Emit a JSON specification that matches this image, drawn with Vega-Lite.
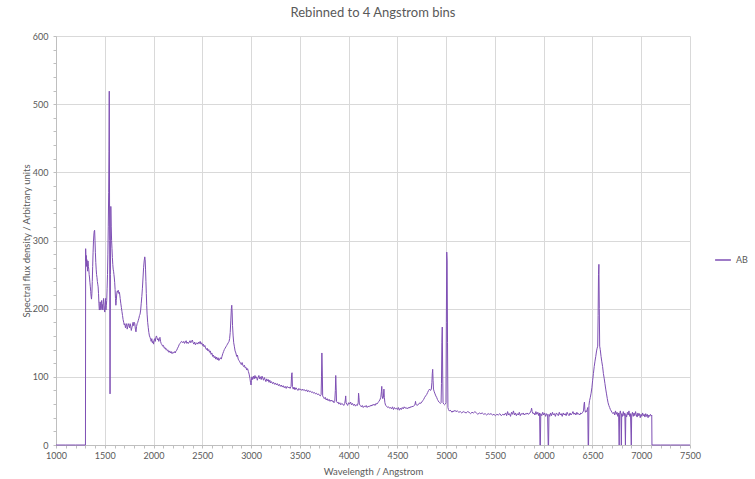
{
  "$schema": "https://vega.github.io/schema/vega-lite/v6.json",
  "width": 634,
  "height": 409,
  "autosize": {"type": "none"},
  "padding": {"left": 56, "top": 36, "right": 65, "bottom": 34},
  "background": "white",
  "config": {"font": "Lato", "view": {"stroke": null}},
  "title": {"text": "Rebinned to 4 Angstrom bins", "fontSize": 13, "font": "Lato", "fontWeight": "normal", "color": "#595959", "offset": 12},
  "data": {"values": [
{"w":1000,"f":0},{"w":1100,"f":0},{"w":1200,"f":0},{"w":1302,"f":0},{"w":1304,"f":288},
{"w":1307,"f":270},{"w":1310,"f":278},{"w":1313,"f":262},{"w":1316,"f":272},{"w":1320,"f":268},{"w":1324,"f":255},{"w":1328,"f":270},{"w":1332,"f":262},{"w":1336,"f":258},{"w":1340,"f":250},{"w":1344,"f":245},{"w":1348,"f":238},{"w":1352,"f":232},{"w":1356,"f":225},{"w":1360,"f":218},{"w":1364,"f":214},{"w":1368,"f":222},{"w":1372,"f":240},{"w":1376,"f":262},{"w":1380,"f":282},{"w":1384,"f":298},{"w":1388,"f":308},{"w":1392,"f":314},{"w":1396,"f":315},{"w":1400,"f":300},{"w":1404,"f":282},{"w":1408,"f":268},{"w":1412,"f":258},{"w":1416,"f":250},{"w":1420,"f":246},{"w":1424,"f":240},{"w":1428,"f":236},{"w":1432,"f":232},{"w":1436,"f":222},{"w":1440,"f":208},{"w":1444,"f":198},{"w":1448,"f":200},{"w":1452,"f":210},{"w":1456,"f":205},{"w":1460,"f":198},{"w":1464,"f":208},{"w":1468,"f":212},{"w":1472,"f":200},{"w":1476,"f":206},{"w":1480,"f":198},{"w":1484,"f":210},{"w":1488,"f":215},{"w":1492,"f":205},{"w":1496,"f":198},{"w":1500,"f":195},{"w":1504,"f":206},{"w":1508,"f":215},{"w":1512,"f":198},{"w":1516,"f":205},{"w":1520,"f":212},
{"w":1524,"f":230},{"w":1528,"f":250},{"w":1532,"f":280},{"w":1536,"f":320},{"w":1540,"f":370},{"w":1543,"f":430},{"w":1546,"f":519},{"w":1550,"f":300},{"w":1554,"f":75},{"w":1558,"f":250},{"w":1562,"f":350},{"w":1566,"f":320},{"w":1570,"f":300},{"w":1574,"f":288},{"w":1578,"f":275},{"w":1582,"f":265},{"w":1586,"f":258},{"w":1590,"f":255},{"w":1594,"f":250},{"w":1598,"f":245},{"w":1602,"f":238},{"w":1606,"f":228},{"w":1610,"f":215},{"w":1614,"f":205},{"w":1618,"f":212},{"w":1622,"f":220},{"w":1626,"f":225},{"w":1630,"f":226},{"w":1634,"f":224},{"w":1638,"f":227},{"w":1642,"f":225},{"w":1646,"f":222},{"w":1650,"f":224},{"w":1654,"f":220},{"w":1658,"f":215},
{"w":1664,"f":208},{"w":1670,"f":202},{"w":1676,"f":196},{"w":1682,"f":190},{"w":1688,"f":184},{"w":1694,"f":180},{"w":1700,"f":176},{"w":1706,"f":178},{"w":1712,"f":172},{"w":1718,"f":176},{"w":1724,"f":178},{"w":1730,"f":170},{"w":1736,"f":174},{"w":1742,"f":178},{"w":1748,"f":175},{"w":1754,"f":172},{"w":1760,"f":178},{"w":1766,"f":174},{"w":1772,"f":168},{"w":1778,"f":172},{"w":1784,"f":176},{"w":1790,"f":180},{"w":1796,"f":175},{"w":1802,"f":180},{"w":1808,"f":178},{"w":1814,"f":170},{"w":1820,"f":166},{"w":1826,"f":174},{"w":1832,"f":178},{"w":1838,"f":180},{"w":1844,"f":183},{"w":1850,"f":186},{"w":1856,"f":190},{"w":1862,"f":192},{"w":1868,"f":198},{"w":1874,"f":208},{"w":1880,"f":218},{"w":1886,"f":230},{"w":1892,"f":245},{"w":1898,"f":260},{"w":1904,"f":270},{"w":1910,"f":276},{"w":1914,"f":272},{"w":1918,"f":258},{"w":1922,"f":240},{"w":1926,"f":222},{"w":1930,"f":205},{"w":1934,"f":192},{"w":1940,"f":180},{"w":1946,"f":172},{"w":1952,"f":165},{"w":1958,"f":160},{"w":1964,"f":158},{"w":1970,"f":155},{"w":1976,"f":152},{"w":1982,"f":156},{"w":1988,"f":150},{"w":1994,"f":152},{"w":2000,"f":148},{"w":2006,"f":154},{"w":2012,"f":156},{"w":2018,"f":152},{"w":2024,"f":158},{"w":2030,"f":160},{"w":2036,"f":157},{"w":2042,"f":154},{"w":2048,"f":156},{"w":2054,"f":152},{"w":2060,"f":156},{"w":2066,"f":158},{"w":2072,"f":152},{"w":2078,"f":149},{"w":2086,"f":147},{"w":2094,"f":145},{"w":2102,"f":146},{"w":2110,"f":142},{"w":2118,"f":143},{"w":2126,"f":140},{"w":2134,"f":141},{"w":2142,"f":138},{"w":2150,"f":139},{"w":2158,"f":136},{"w":2166,"f":138},{"w":2174,"f":135},{"w":2182,"f":137},{"w":2190,"f":134},{"w":2198,"f":136},{"w":2206,"f":135},{"w":2214,"f":137},{"w":2222,"f":135},{"w":2230,"f":138},{"w":2238,"f":139},{"w":2246,"f":142},{"w":2254,"f":144},{"w":2262,"f":147},{"w":2270,"f":149},{"w":2278,"f":150},{"w":2286,"f":152},{"w":2294,"f":151},{"w":2302,"f":150},{"w":2310,"f":152},{"w":2318,"f":149},{"w":2326,"f":151},{"w":2334,"f":153},{"w":2342,"f":149},{"w":2350,"f":151},{"w":2358,"f":149},{"w":2366,"f":151},{"w":2374,"f":153},{"w":2382,"f":150},{"w":2390,"f":152},{"w":2398,"f":154},{"w":2406,"f":150},{"w":2414,"f":148},{"w":2422,"f":151},{"w":2430,"f":147},{"w":2438,"f":149},{"w":2446,"f":150},{"w":2454,"f":148},{"w":2462,"f":151},{"w":2470,"f":149},{"w":2478,"f":152},{"w":2486,"f":148},{"w":2494,"f":150},{"w":2502,"f":146},{"w":2510,"f":148},{"w":2518,"f":144},{"w":2526,"f":146},{"w":2534,"f":142},{"w":2542,"f":140},{"w":2550,"f":142},{"w":2558,"f":138},{"w":2566,"f":140},{"w":2574,"f":136},{"w":2582,"f":138},{"w":2590,"f":133},{"w":2598,"f":135},{"w":2606,"f":130},{"w":2614,"f":132},{"w":2622,"f":128},{"w":2630,"f":130},{"w":2638,"f":126},{"w":2646,"f":129},{"w":2654,"f":125},{"w":2662,"f":128},{"w":2670,"f":124},{"w":2678,"f":126},{"w":2686,"f":128},{"w":2694,"f":126},{"w":2702,"f":130},{"w":2710,"f":134},{"w":2718,"f":137},{"w":2726,"f":140},{"w":2734,"f":142},{"w":2742,"f":144},{"w":2750,"f":146},{"w":2758,"f":148},{"w":2766,"f":150},{"w":2774,"f":152},{"w":2780,"f":156},{"w":2786,"f":165},{"w":2792,"f":182},{"w":2798,"f":200},{"w":2802,"f":205},{"w":2806,"f":195},{"w":2810,"f":175},{"w":2816,"f":160},{"w":2822,"f":150},{"w":2828,"f":145},{"w":2836,"f":138},{"w":2844,"f":135},{"w":2852,"f":130},{"w":2860,"f":132},{"w":2868,"f":126},{"w":2876,"f":124},{"w":2884,"f":122},{"w":2892,"f":120},{"w":2900,"f":118},{"w":2908,"f":121},{"w":2916,"f":117},{"w":2924,"f":115},{"w":2932,"f":117},{"w":2940,"f":113},{"w":2948,"f":114},{"w":2956,"f":110},{"w":2964,"f":112},{"w":2972,"f":108},{"w":2980,"f":104},{"w":2988,"f":98},{"w":2994,"f":92},{"w":3000,"f":88},{"w":3004,"f":95},
{"w":3008,"f":100},{"w":3016,"f":96},{"w":3024,"f":101},{"w":3032,"f":97},{"w":3040,"f":102},{"w":3048,"f":98},{"w":3056,"f":100},{"w":3064,"f":95},{"w":3072,"f":99},{"w":3080,"f":102},{"w":3088,"f":97},{"w":3096,"f":100},{"w":3104,"f":96},{"w":3112,"f":101},{"w":3120,"f":98},{"w":3128,"f":95},{"w":3136,"f":99},{"w":3144,"f":96},{"w":3152,"f":93},{"w":3160,"f":97},{"w":3168,"f":94},{"w":3176,"f":96},{"w":3184,"f":92},{"w":3192,"f":95},{"w":3200,"f":91},{"w":3210,"f":93},{"w":3220,"f":90},{"w":3230,"f":92},{"w":3240,"f":89},{"w":3250,"f":91},{"w":3260,"f":88},{"w":3270,"f":90},{"w":3280,"f":87},{"w":3290,"f":89},{"w":3300,"f":86},{"w":3310,"f":88},{"w":3320,"f":85},{"w":3330,"f":87},{"w":3340,"f":84},{"w":3350,"f":86},{"w":3360,"f":83},{"w":3370,"f":86},{"w":3380,"f":84},{"w":3390,"f":85},{"w":3400,"f":83},{"w":3410,"f":86},{"w":3416,"f":104},{"w":3420,"f":106},{"w":3424,"f":86},{"w":3432,"f":82},{"w":3440,"f":85},{"w":3450,"f":81},{"w":3460,"f":84},{"w":3470,"f":82},{"w":3480,"f":80},{"w":3490,"f":83},{"w":3500,"f":81},{"w":3510,"f":82},{"w":3520,"f":80},{"w":3530,"f":82},{"w":3540,"f":80},{"w":3550,"f":81},{"w":3560,"f":79},{"w":3570,"f":81},{"w":3580,"f":78},{"w":3590,"f":80},{"w":3600,"f":78},{"w":3610,"f":79},{"w":3620,"f":77},{"w":3630,"f":78},{"w":3640,"f":76},{"w":3650,"f":77},{"w":3660,"f":75},{"w":3670,"f":76},{"w":3680,"f":74},{"w":3690,"f":75},{"w":3700,"f":73},{"w":3710,"f":72},{"w":3718,"f":74},{"w":3722,"f":100},{"w":3726,"f":135},{"w":3730,"f":110},{"w":3734,"f":72},{"w":3742,"f":70},{"w":3750,"f":68},{"w":3760,"f":70},{"w":3770,"f":66},{"w":3780,"f":68},{"w":3790,"f":65},{"w":3800,"f":67},{"w":3810,"f":64},{"w":3820,"f":66},{"w":3830,"f":64},{"w":3840,"f":65},{"w":3850,"f":62},{"w":3858,"f":64},{"w":3864,"f":80},{"w":3868,"f":102},{"w":3872,"f":85},{"w":3876,"f":64},{"w":3884,"f":62},{"w":3892,"f":63},{"w":3900,"f":60},{"w":3910,"f":62},{"w":3920,"f":59},{"w":3930,"f":61},{"w":3940,"f":60},{"w":3950,"f":58},{"w":3960,"f":61},{"w":3966,"f":66},{"w":3970,"f":72},{"w":3974,"f":62},{"w":3982,"f":60},{"w":3990,"f":58},
{"w":4000,"f":62},{"w":4010,"f":60},{"w":4020,"f":63},{"w":4030,"f":59},{"w":4040,"f":61},{"w":4050,"f":58},{"w":4060,"f":60},{"w":4070,"f":57},{"w":4080,"f":59},{"w":4090,"f":58},{"w":4098,"f":62},{"w":4102,"f":76},{"w":4106,"f":70},{"w":4110,"f":60},{"w":4120,"f":58},{"w":4130,"f":56},{"w":4140,"f":58},{"w":4150,"f":55},{"w":4160,"f":57},{"w":4170,"f":56},{"w":4180,"f":58},{"w":4190,"f":55},{"w":4200,"f":57},{"w":4210,"f":56},{"w":4220,"f":58},{"w":4230,"f":57},{"w":4240,"f":59},{"w":4250,"f":58},{"w":4260,"f":60},{"w":4270,"f":58},{"w":4280,"f":61},{"w":4290,"f":60},{"w":4300,"f":62},{"w":4310,"f":64},{"w":4320,"f":66},{"w":4330,"f":70},{"w":4336,"f":78},{"w":4340,"f":86},{"w":4344,"f":72},{"w":4350,"f":68},{"w":4356,"f":70},{"w":4362,"f":82},{"w":4366,"f":70},{"w":4372,"f":62},{"w":4380,"f":58},{"w":4390,"f":57},{"w":4400,"f":55},{"w":4410,"f":56},{"w":4420,"f":54},{"w":4430,"f":55},{"w":4440,"f":53},{"w":4450,"f":56},{"w":4460,"f":52},{"w":4470,"f":55},{"w":4480,"f":53},{"w":4490,"f":54},{"w":4500,"f":52},{"w":4510,"f":55},{"w":4520,"f":51},{"w":4530,"f":54},{"w":4540,"f":52},{"w":4550,"f":55},{"w":4560,"f":53},{"w":4570,"f":56},{"w":4580,"f":54},{"w":4590,"f":55},{"w":4600,"f":53},{"w":4610,"f":55},{"w":4620,"f":54},{"w":4630,"f":56},{"w":4640,"f":55},{"w":4650,"f":57},{"w":4660,"f":56},{"w":4670,"f":58},{"w":4680,"f":59},{"w":4686,"f":64},{"w":4690,"f":60},{"w":4700,"f":58},{"w":4710,"f":59},{"w":4720,"f":60},{"w":4730,"f":62},{"w":4740,"f":61},{"w":4750,"f":63},{"w":4760,"f":65},{"w":4770,"f":67},{"w":4780,"f":70},{"w":4790,"f":72},{"w":4800,"f":74},{"w":4810,"f":77},{"w":4820,"f":80},{"w":4830,"f":82},{"w":4840,"f":80},{"w":4848,"f":82},{"w":4854,"f":92},{"w":4858,"f":105},{"w":4862,"f":111},{"w":4866,"f":95},{"w":4870,"f":82},{"w":4878,"f":78},{"w":4886,"f":75},{"w":4894,"f":72},{"w":4902,"f":70},{"w":4910,"f":67},{"w":4918,"f":65},{"w":4926,"f":63},{"w":4934,"f":62},{"w":4942,"f":61},{"w":4948,"f":62},{"w":4952,"f":90},{"w":4956,"f":150},{"w":4960,"f":173},{"w":4964,"f":110},{"w":4968,"f":62},{"w":4976,"f":60},{"w":4984,"f":59},{"w":4992,"f":60},{"w":4998,"f":62},{"w":5002,"f":180},{"w":5006,"f":283},{"w":5010,"f":270},{"w":5014,"f":150},{"w":5018,"f":55},{"w":5024,"f":52},{"w":5032,"f":50},{"w":5040,"f":51},
{"w":5050,"f":50},{"w":5060,"f":48},{"w":5070,"f":50},{"w":5080,"f":49},{"w":5090,"f":51},{"w":5100,"f":49},{"w":5115,"f":50},{"w":5130,"f":48},{"w":5145,"f":49},{"w":5160,"f":47},{"w":5175,"f":49},{"w":5190,"f":48},{"w":5205,"f":47},{"w":5220,"f":49},{"w":5235,"f":48},{"w":5250,"f":46},{"w":5265,"f":48},{"w":5280,"f":47},{"w":5295,"f":49},{"w":5310,"f":47},{"w":5325,"f":45},{"w":5340,"f":47},{"w":5355,"f":46},{"w":5370,"f":47},{"w":5385,"f":45},{"w":5400,"f":46},{"w":5415,"f":44},{"w":5430,"f":46},{"w":5445,"f":45},{"w":5460,"f":46},{"w":5475,"f":44},{"w":5490,"f":45},{"w":5505,"f":43},{"w":5520,"f":45},{"w":5535,"f":44},{"w":5550,"f":46},{"w":5565,"f":43},{"w":5580,"f":45},{"w":5595,"f":44},{"w":5610,"f":47},{"w":5620,"f":43},{"w":5630,"f":49},{"w":5640,"f":44},{"w":5650,"f":46},{"w":5660,"f":42},{"w":5670,"f":48},{"w":5680,"f":45},{"w":5690,"f":50},{"w":5700,"f":44},{"w":5710,"f":47},{"w":5720,"f":43},{"w":5730,"f":46},{"w":5740,"f":44},{"w":5750,"f":48},{"w":5760,"f":43},{"w":5770,"f":46},{"w":5780,"f":45},{"w":5790,"f":47},{"w":5800,"f":44},{"w":5810,"f":46},{"w":5820,"f":45},{"w":5830,"f":47},{"w":5840,"f":45},{"w":5850,"f":46},{"w":5860,"f":47},{"w":5870,"f":50},{"w":5876,"f":54},{"w":5882,"f":49},{"w":5890,"f":46},{"w":5900,"f":47},{"w":5910,"f":44},{"w":5920,"f":49},{"w":5930,"f":45},{"w":5940,"f":48},{"w":5950,"f":43},{"w":5958,"f":47},{"w":5962,"f":0},{"w":5966,"f":0},{"w":5970,"f":46},{"w":5980,"f":43},{"w":5990,"f":48},{"w":6000,"f":44},{"w":6010,"f":47},{"w":6020,"f":42},{"w":6030,"f":46},{"w":6040,"f":44},{"w":6046,"f":0},{"w":6050,"f":0},{"w":6054,"f":45},{"w":6062,"f":42},{"w":6070,"f":47},{"w":6080,"f":43},{"w":6090,"f":48},{"w":6100,"f":44},{"w":6110,"f":46},{"w":6120,"f":42},{"w":6130,"f":47},{"w":6140,"f":45},{"w":6150,"f":43},{"w":6160,"f":48},{"w":6170,"f":44},{"w":6180,"f":46},{"w":6190,"f":42},{"w":6200,"f":47},{"w":6210,"f":44},{"w":6220,"f":46},{"w":6230,"f":43},{"w":6240,"f":48},{"w":6250,"f":45},{"w":6260,"f":43},{"w":6270,"f":47},{"w":6280,"f":44},{"w":6290,"f":46},{"w":6300,"f":49},{"w":6310,"f":45},{"w":6320,"f":47},{"w":6330,"f":44},{"w":6340,"f":48},{"w":6350,"f":45},{"w":6360,"f":46},{"w":6370,"f":44},{"w":6380,"f":47},{"w":6390,"f":46},{"w":6400,"f":48},{"w":6408,"f":50},{"w":6414,"f":60},{"w":6418,"f":63},{"w":6422,"f":52},{"w":6428,"f":48},{"w":6434,"f":50},{"w":6440,"f":49},{"w":6446,"f":52},{"w":6452,"f":55},{"w":6456,"f":0},{"w":6460,"f":0},{"w":6464,"f":58},{"w":6470,"f":65},{"w":6478,"f":70},{"w":6486,"f":76},{"w":6494,"f":84},{"w":6502,"f":95},{"w":6510,"f":105},{"w":6518,"f":115},{"w":6526,"f":123},{"w":6534,"f":130},{"w":6542,"f":138},{"w":6548,"f":142},{"w":6554,"f":145},{"w":6558,"f":190},{"w":6562,"f":250},{"w":6566,"f":265},{"w":6570,"f":200},{"w":6574,"f":145},{"w":6580,"f":140},{"w":6588,"f":130},{"w":6596,"f":122},{"w":6604,"f":115},{"w":6612,"f":105},{"w":6620,"f":98},{"w":6628,"f":90},{"w":6636,"f":82},{"w":6644,"f":75},{"w":6652,"f":68},{"w":6660,"f":62},{"w":6668,"f":58},{"w":6676,"f":55},{"w":6684,"f":52},{"w":6692,"f":50},{"w":6700,"f":48},{"w":6710,"f":46},{"w":6720,"f":48},{"w":6728,"f":44},{"w":6736,"f":50},{"w":6744,"f":45},{"w":6752,"f":48},{"w":6760,"f":42},{"w":6768,"f":47},{"w":6774,"f":0},{"w":6778,"f":45},{"w":6786,"f":50},{"w":6792,"f":44},{"w":6796,"f":0},{"w":6800,"f":46},{"w":6808,"f":42},{"w":6816,"f":49},{"w":6824,"f":43},{"w":6832,"f":47},{"w":6838,"f":0},{"w":6842,"f":45},{"w":6850,"f":41},{"w":6858,"f":48},{"w":6866,"f":44},{"w":6874,"f":50},{"w":6882,"f":42},{"w":6890,"f":46},{"w":6898,"f":0},{"w":6902,"f":44},{"w":6910,"f":48},{"w":6918,"f":42},{"w":6926,"f":47},{"w":6934,"f":43},{"w":6942,"f":49},{"w":6950,"f":44},{"w":6958,"f":41},{"w":6966,"f":47},{"w":6974,"f":43},{"w":6982,"f":46},{"w":6990,"f":40},{"w":6998,"f":45},{"w":7006,"f":42},{"w":7014,"f":47},{"w":7022,"f":43},{"w":7030,"f":45},{"w":7038,"f":41},{"w":7046,"f":46},{"w":7054,"f":42},{"w":7062,"f":45},{"w":7070,"f":40},{"w":7078,"f":44},{"w":7086,"f":42},{"w":7094,"f":45},{"w":7102,"f":43},{"w":7108,"f":44},{"w":7110,"f":0},{"w":7200,"f":0},{"w":7300,"f":0},{"w":7400,"f":0},{"w":7500,"f":0}
  ]},
  "layer": [
    {
      "mark": {"type": "line", "strokeWidth": 1, "opacity": 0},
      "encoding": {
        "x": {"field": "w", "type": "quantitative", "scale": {"domain": [1000, 7500], "nice": false},
          "axis": {"orient": "bottom", "values": [1000,1100,1200,1300,1400,1500,1600,1700,1800,1900,2000,2100,2200,2300,2400,2500,2600,2700,2800,2900,3000,3100,3200,3300,3400,3500,3600,3700,3800,3900,4000,4100,4200,4300,4400,4500,4600,4700,4800,4900,5000,5100,5200,5300,5400,5500,5600,5700,5800,5900,6000,6100,6200,6300,6400,6500,6600,6700,6800,6900,7000,7100,7200,7300,7400,7500], "labels": false, "grid": false, "domain": false, "ticks": true, "tickSize": 3, "tickColor": "#BFBFBF", "title": null}},
        "y": {"field": "f", "type": "quantitative", "scale": {"domain": [0, 600], "nice": false},
          "axis": {"orient": "left", "values": [0,20,40,60,80,100,120,140,160,180,200,220,240,260,280,300,320,340,360,380,400,420,440,460,480,500,520,540,560,580,600], "labels": false, "grid": false, "domain": false, "ticks": true, "tickSize": 3, "tickColor": "#BFBFBF", "title": null}}
      }
    },
    {
      "mark": {"type": "line", "strokeWidth": 1, "interpolate": "linear"},
      "encoding": {
        "x": {"field": "w", "type": "quantitative", "scale": {"domain": [1000, 7500], "nice": false},
          "axis": {"orient": "bottom", "values": [1000,1500,2000,2500,3000,3500,4000,4500,5000,5500,6000,6500,7000,7500], "format": "d", "labelFlush": false, "labelOverlap": false, "grid": true, "gridColor": "#D9D9D9", "gridWidth": 1, "domain": true, "domainColor": "#BFBFBF", "ticks": false, "labelFontSize": 9, "labelColor": "#595959", "labelPadding": 6, "labelFont": "Lato", "title": "Wavelength / Angstrom", "titleFontSize": 9.5, "titleFontWeight": "normal", "titleColor": "#595959", "titleFont": "Lato", "titlePadding": 6}},
        "y": {"field": "f", "type": "quantitative", "scale": {"domain": [0, 600], "nice": false},
          "axis": {"orient": "left", "values": [0,100,200,300,400,500,600], "format": "d", "labelFlush": false, "labelOverlap": false, "grid": true, "gridColor": "#D9D9D9", "gridWidth": 1, "domain": true, "domainColor": "#BFBFBF", "ticks": false, "labelFontSize": 9, "labelColor": "#595959", "labelPadding": 8, "labelFont": "Lato", "title": "Spectral flux density / Arbitrary units", "titleFontSize": 9.5, "titleFontWeight": "normal", "titleColor": "#595959", "titleFont": "Lato", "titlePadding": 1}},
        "color": {"datum": "AB", "type": "nominal", "scale": {"domain": ["AB"], "range": ["#7E4FB4"]},
          "legend": {"title": null, "orient": "none", "legendX": 658, "legendY": 215, "symbolType": "stroke", "symbolStrokeWidth": 1.5, "symbolSize": 250, "labelFontSize": 9, "labelColor": "#595959", "labelFont": "Lato"}}
      }
    }
  ],
  "resolve": {"axis": {"x": "independent", "y": "independent"}}
}
